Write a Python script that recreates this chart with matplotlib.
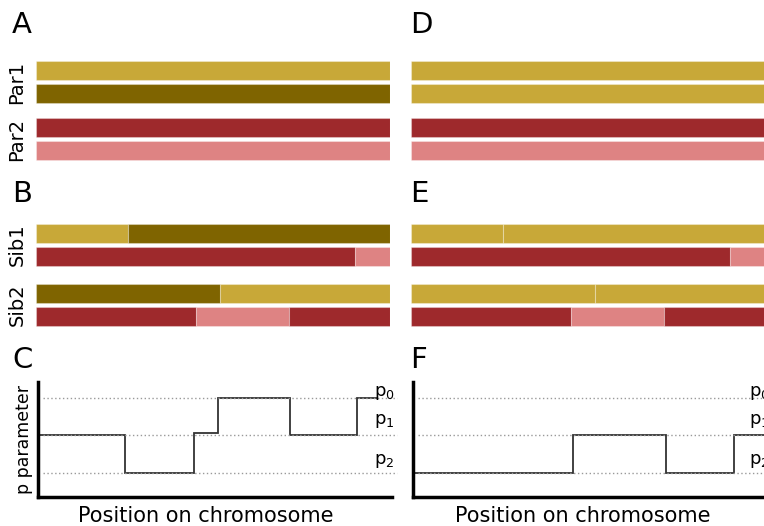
import numpy as np
import matplotlib
matplotlib.use('Agg')
import matplotlib.pyplot as plt

plt.rcParams['font.family'] = ['DejaVu Sans']

W, H = 764, 526

GOLD = '#C8A838'
OLIVE = '#7F6400'
RED = '#9E292C'
PINK = '#DE8383'

# haplotypes along the chromosome (0-100): breakpoints and segment colours
par_labels = ['Par1', 'Par2']
sib_labels = ['Sib1', 'Sib2']

a_breaks = [[0, 100], [0, 100], [0, 100], [0, 100]]
a_colors = [[GOLD], [OLIVE], [RED], [PINK]]
d_colors = [[GOLD], [GOLD], [RED], [PINK]]

b_breaks = [[0, 26, 100], [0, 90, 100], [0, 52, 100], [0, 45.2, 71.5, 100]]
b_colors = [[GOLD, OLIVE], [RED, PINK], [OLIVE, GOLD], [RED, PINK, RED]]
e_colors = [[GOLD, GOLD], [RED, PINK], [GOLD, GOLD], [RED, PINK, RED]]

# p parameter along the chromosome (p0 = 2, p1 = 1, p2 = 0)
c_edges = [0, 24.6, 44.1, 50.8, 71.2, 90.1, 95.8]
c_levels = [1, 0, 1.06, 2, 1, 2]
f_edges = [0, 45.4, 71.6, 90.8, 100]
f_levels = [0, 1, 0, 1]

p_names = ['p_0', 'p_1', 'p_2']
p_values = [2, 1, 0]

fig = plt.figure(figsize=(W / 100, H / 100), dpi=100)


def px_axes(x0, y0, x1, y1):
    return fig.add_axes([x0 / W, 1 - y1 / H, (x1 - x0) / W, (y1 - y0) / H])


def bar_panel(x0, y0, rows, breaks, colors, labels):
    y1 = y0 + (rows[-1] - rows[0] + 1) * 23
    ax = px_axes(x0, y0, x0 + 354, y1)
    for y, br, cl in zip(rows, breaks, colors):
        br = np.asarray(br, dtype=float)
        ax.barh(y, np.diff(br), left=br[:-1], height=0.83, color=cl,
                edgecolor=(1, 1, 1, 0.3), linewidth=0.8)
    ax.set_xlim(0, 100)
    ax.set_ylim(rows[-1] + 0.5, rows[0] - 0.5)
    for s in ax.spines.values():
        s.set_visible(False)
    ax.set_xticks([])
    ax.set_yticks([(rows[0] + rows[1]) / 2, (rows[2] + rows[3]) / 2])
    if labels:
        ax.set_yticklabels(labels, rotation=90, va='center', fontsize=14)
    else:
        ax.set_yticklabels([])
    ax.tick_params(axis='y', length=0, pad=7)
    return ax


def p_panel(x0, edges, levels, xlab_x):
    ax = px_axes(x0, 382, x0 + 354, 496.5)
    for v in p_values:
        ax.plot([1.5, 101.5], [v, v], ls=(0, (1, 1.8)), color='#999999',
                lw=1, clip_on=False)
    ax.stairs(levels, edges, baseline=None, color='#333333', lw=1.3)
    # labels near the right edge; in panel F they run off the figure as in the original
    for name, v, dy in zip(p_names, p_values, [-0.11, 0.13, 0.07]):
        ax.text(100.8, v + dy, r'$\mathregular{%s}$' % name, ha='right',
                va='bottom', fontsize=13, clip_on=False)
    ax.set_xlim(0, 100)
    ax.set_ylim(-0.63, 2.42)
    ax.set_xticks([])
    ax.set_yticks([])
    ax.spines['top'].set_visible(False)
    ax.spines['right'].set_visible(False)
    ax.spines['left'].set_linewidth(2.5)
    ax.spines['bottom'].set_linewidth(2.5)
    fig.text(xlab_x / W, 1 - 516 / H, 'Position on chromosome', ha='center',
             va='center', fontsize=15)
    return ax


rows_a = [0, 1, 2.48, 3.48]
rows_b = [0, 1, 2.6, 3.6]

bar_panel(36, 59, rows_a, a_breaks, a_colors, par_labels)
bar_panel(36, 222, rows_b, b_breaks, b_colors, sib_labels)
bar_panel(411, 59, rows_a, a_breaks, d_colors, None)
bar_panel(411, 222, rows_b, b_breaks, e_colors, None)

p_panel(38, c_edges, c_levels, 206)
p_panel(412.5, f_edges, f_levels, 583)

fig.text(24 / W, 1 - 440 / H, 'p parameter', rotation=90, ha='center',
         va='center', fontsize=12.5)

for letter, x, y in [('A', 12, 25), ('B', 12, 194), ('C', 12, 360),
                     ('D', 410, 25), ('E', 410, 194), ('F', 410, 360)]:
    fig.text(x / W, 1 - y / H, letter, ha='left', va='center', fontsize=21)

fig.savefig('out.png', dpi=100)
